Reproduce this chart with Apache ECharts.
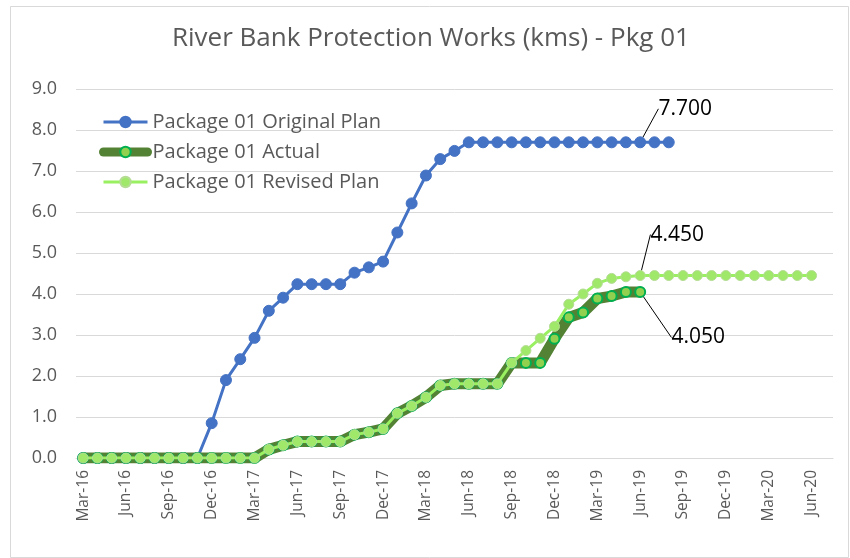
<!DOCTYPE html>
<html>
<head>
<meta charset="utf-8">
<script src="https://cdn.jsdelivr.net/npm/echarts@6/dist/echarts.min.js"></script>
<style>
html,body{margin:0;padding:0;background:#fff;}
#chart{width:850px;height:558px;}
</style>
</head>
<body>
<div id="chart"></div>
<script>
var titleText = 'River Bank Protection Works (kms) - Pkg 01';
var categories = ['Mar-16','Apr-16','May-16','Jun-16','Jul-16','Aug-16','Sep-16','Oct-16','Nov-16','Dec-16',
'Jan-17','Feb-17','Mar-17','Apr-17','May-17','Jun-17','Jul-17','Aug-17','Sep-17','Oct-17','Nov-17','Dec-17',
'Jan-18','Feb-18','Mar-18','Apr-18','May-18','Jun-18','Jul-18','Aug-18','Sep-18','Oct-18','Nov-18','Dec-18',
'Jan-19','Feb-19','Mar-19','Apr-19','May-19','Jun-19','Jul-19','Aug-19','Sep-19','Oct-19','Nov-19','Dec-19',
'Jan-20','Feb-20','Mar-20','Apr-20','May-20','Jun-20','Jul-20'];
var seriesNames = ['Package 01 Original Plan','Package 01 Actual','Package 01 Revised Plan'];
var originalPlan = [0,0,0,0,0,0,0,0,0,0.85,1.90,2.41,2.93,3.59,3.91,4.24,4.24,4.24,4.24,4.52,4.65,4.79,5.50,6.21,6.89,7.29,7.49,
7.70,7.70,7.70,7.70,7.70,7.70,7.70,7.70,7.70,7.70,7.70,7.70,7.70,7.70,7.70,
null,null,null,null,null,null,null,null,null,null,null];
var actual = [0,0,0,0,0,0,0,0,0,0,0,0,0,0.21,0.31,0.40,0.40,0.40,0.40,0.57,0.63,0.71,1.09,1.27,1.48,1.77,1.81,1.81,1.81,1.81,
2.32,2.32,2.32,2.91,3.43,3.55,3.89,3.95,4.05,4.05,
null,null,null,null,null,null,null,null,null,null,null,null,null];
var revisedPlan = [0,0,0,0,0,0,0,0,0,0,0,0,0,0.21,0.31,0.40,0.40,0.40,0.40,0.57,0.63,0.71,1.09,1.27,1.48,1.77,1.81,1.81,1.81,1.81,
2.32,2.62,2.92,3.21,3.75,4.00,4.26,4.38,4.42,4.45,
4.45,4.45,4.45,4.45,4.45,4.45,4.45,4.45,4.45,4.45,4.45,4.45,null];
var yTicks = [0,1,2,3,4,5,6,7,8,9];
// labelled points: [seriesIndex, dataIndex, label text]
var labelledPoints = [[0,39,'7.700'],[1,39,'4.050'],[2,39,'4.450']];

var FONT = 'Open Sans';
var chart = echarts.init(document.getElementById('chart'), null, {renderer:'canvas'});

function labelFor(si) {
  var found = labelledPoints.filter(function(p){return p[0]===si;});
  return found.length ? found[0] : null;
}
function buildData(arr, si) {
  var lp = labelFor(si);
  return arr.map(function(v,i){
    if (lp && i === lp[1]) {
      return {value: v, label: {show: true, formatter: lp[2]}};
    }
    return v;
  });
}
var offsets = {0:{dx:45,dy:-12}, 1:{dx:58,dy:67}, 2:{dx:37,dy:-20}};
var labelStyle = {show: false, position: 'top', fontFamily: FONT, fontSize: 21, color: '#000'};

var option = {
  animation: false,
  backgroundColor: '#fff',
  textStyle: {fontFamily: FONT},
  title: {
    text: titleText, left: 167, top: 21,
    textStyle: {fontFamily: FONT, fontSize: 26, fontWeight: 'normal', color: '#595959'}
  },
  graphic: [{
    type: 'rect', left: 8, top: 4, z: -1,
    shape: {width: 838, height: 551},
    style: {fill: 'none', stroke: '#d9d9d9', lineWidth: 1}
  }],
  legend: {
    orient: 'vertical', left: 94, top: 107,
    itemWidth: 44, itemHeight: 13, itemGap: 10,
    textStyle: {fontFamily: FONT, fontSize: 20, color: '#595959'},
    data: [
      {name: seriesNames[0], lineStyle: {width: 3}},
      {name: seriesNames[1], lineStyle: {width: 9, cap: 'round'}},
      {name: seriesNames[2], lineStyle: {width: 3}}
    ]
  },
  grid: {left: 76, right: 17, top: 89, bottom: 100, containLabel: false},
  xAxis: {
    type: 'category', data: categories, boundaryGap: true,
    axisLine: {show: true, lineStyle: {color: '#d9d9d9'}},
    axisTick: {show: false},
    axisLabel: {rotate: 90, interval: 2, margin: 12, fontFamily: FONT, fontSize: 15.5, color: '#595959'}
  },
  yAxis: {
    type: 'value', min: yTicks[0], max: yTicks[yTicks.length-1], interval: 1,
    axisLine: {show: false}, axisTick: {show: false},
    axisLabel: {margin: 19, fontFamily: FONT, fontSize: 18, color: '#595959',
      formatter: function(v){return v.toFixed(1);}},
    splitLine: {lineStyle: {color: '#d9d9d9', width: 1}}
  },
  series: [
    {
      name: seriesNames[0], type: 'line', data: buildData(originalPlan, 0),
      symbol: 'circle', symbolSize: 11, showAllSymbol: true,
      lineStyle: {color: '#4472c4', width: 3},
      itemStyle: {color: '#4472c4', borderColor: '#4472c4', borderWidth: 1},
      label: labelStyle,
      labelLine: {show: true, lineStyle: {color: '#000', width: 1}},
      labelLayout: function(p){ return p.dataIndex===labelledPoints[0][1] ? offsets[0] : {}; },
      z: 2
    },
    {
      name: seriesNames[1], type: 'line', data: buildData(actual, 1),
      symbol: 'circle', symbolSize: 10, showAllSymbol: true,
      lineStyle: {color: '#548235', width: 11, cap: 'round', join: 'round'},
      itemStyle: {color: '#92d050', borderColor: '#00b050', borderWidth: 2},
      label: labelStyle,
      labelLine: {show: true, lineStyle: {color: '#000', width: 1}},
      labelLayout: function(p){ return p.dataIndex===labelledPoints[1][1] ? offsets[1] : {}; },
      z: 3
    },
    {
      name: seriesNames[2], type: 'line', data: buildData(revisedPlan, 2),
      symbol: 'circle', symbolSize: 10, showAllSymbol: true,
      lineStyle: {color: '#99f060', width: 3},
      itemStyle: {color: '#a0e86a', borderColor: '#b5dc95', borderWidth: 1},
      label: labelStyle,
      labelLine: {show: true, lineStyle: {color: '#000', width: 1}},
      labelLayout: function(p){ return p.dataIndex===labelledPoints[2][1] ? offsets[2] : {}; },
      z: 4
    }
  ]
};
chart.setOption(option);
</script>
</body>
</html>
